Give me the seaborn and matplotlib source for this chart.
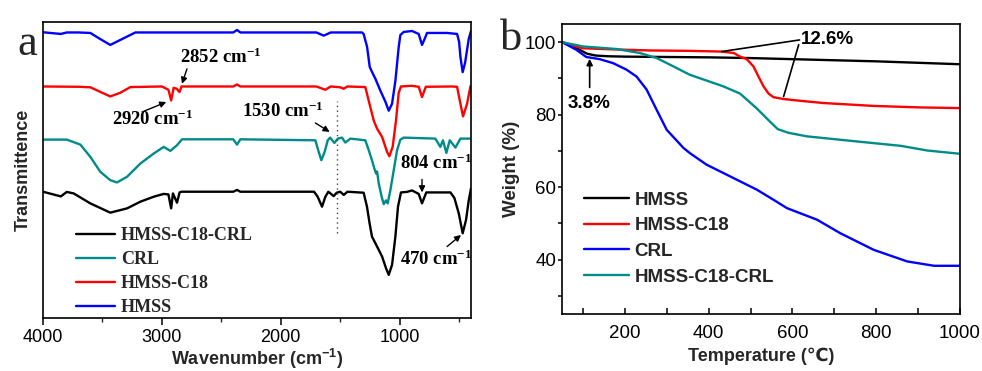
import numpy as np
import pandas as pd
import matplotlib
matplotlib.use('Agg')
import matplotlib.pyplot as plt
import seaborn as sns

# ---------------- FT-IR data (wavenumber cm-1, transmittance a.u.) ----------------
ir_hmss_wn = [4000, 3850, 3800, 3700, 3602, 3520, 3434, 3350, 3223, 2400, 2368, 2340,
              1700, 1639, 1580, 1317, 1303, 1274, 1252, 1233, 1204, 1162, 1120, 1092,
              1064, 1036, 1008, 994, 966, 896, 840, 812, 790, 770, 600, 517, 500, 489,
              470, 450, 419, 400]
ir_hmss_t = [286.7, 285, 286.5, 286.5, 286, 280, 274, 279, 286.5, 286.5, 289, 286.5,
             286.5, 283.3, 286.5, 286.5, 285, 272, 252, 247, 240, 228, 217, 208,
             215, 238, 272, 284, 287, 288, 285, 274, 280, 286, 286, 285, 277, 262,
             246.7, 256, 280, 288]

ir_c18_wn = [4000, 3700, 3602, 3520, 3434, 3350, 3265, 3000, 2945, 2922, 2901, 2875,
             2852, 2835, 2400, 2368, 2340, 1700, 1625, 1580, 1500, 1471, 1440, 1289,
             1247, 1218, 1190, 1148, 1106, 1087, 1059, 1031, 1008, 989, 900, 840,
             812, 780, 560, 517, 489, 467, 433, 405, 400]
ir_c18_t = [232.3, 232, 231.5, 227, 222.3, 226, 231.7, 232.3, 229, 218.3, 231, 230,
            226.7, 232.3, 232.3, 234.3, 232.3, 232.3, 229, 232.3, 231.5, 230, 232.3, 231.7,
            211.7, 198, 190, 181.7, 166.7, 162.3, 171.7, 198, 226, 232.3, 233, 232,
            221.7, 232, 232.3, 232, 215, 202.3, 215, 232.3, 233]

ir_crl_wn = [4000, 3800, 3686, 3602, 3518, 3434, 3378, 3293, 3181, 3069, 2985, 2929,
             2873, 2831, 2400, 2368, 2340, 1709, 1681, 1659, 1631, 1605, 1585, 1549,
             1520, 1485, 1457, 1415, 1289, 1260, 1233, 1213, 1199, 1190, 1176, 1148,
             1134, 1115, 1101, 1078, 1050, 1022, 994, 966, 700, 658, 636, 607, 579,
             531, 489, 400]
ir_crl_t = [179, 179, 174, 161.7, 146.7, 138.3, 136, 141.7, 155, 165, 171.7, 167.7,
            173.3, 179.3, 179.3, 174, 179.3, 178.3, 166.7, 158.3, 166.7, 178.3, 181, 175.7,
            180, 181, 176, 180, 178.3, 168.3, 158.3, 150, 145, 147, 135, 120,
            114.3, 118, 115, 128.3, 148.3, 168.3, 179, 181, 180, 171.7, 178.3, 165.7, 178.3,
            171, 180, 180]

ir_mix_wn = [4000, 3850, 3800, 3742, 3602, 3434, 3293, 3181, 3069, 2985, 2945, 2922,
             2907, 2873, 2851, 2835, 2400, 2368, 2340, 1720, 1690, 1653, 1625, 1600,
             1555, 1530, 1500, 1470, 1440, 1303, 1275, 1253, 1233, 1190, 1148, 1115,
             1092, 1064, 1036, 1014, 989, 940, 896, 840, 812, 776, 573, 540, 503,
             470, 442, 419, 400]
ir_mix_t = [126.7, 122, 126.5, 125, 115, 105.7, 110, 116.7, 121.7, 124.5, 124, 110,
            125, 115.7, 126, 126.7, 126.7, 128.5, 126.7, 126.7, 121.7, 111.7, 121.7, 126.7,
            122.3, 125.7, 126.7, 123.5, 126.7, 125.7, 111.7, 95, 81.7, 71.7, 61.7, 50,
            43.3, 53.3, 81.7, 111.7, 126, 126.5, 128, 124.5, 115, 126, 126, 120.5, 105,
            85, 98.3, 118, 130]

ir_labels = ['HMSS-C18-CRL', 'CRL', 'HMSS-C18', 'HMSS']

# ---------------- TGA data (temperature C, weight %) ----------------
tga_hmss_temp = [50, 70, 90, 110, 130, 160, 200, 300, 400, 500, 600, 700, 800, 900, 1000]
tga_hmss_w = [100, 99.2, 98.0, 96.8, 96.3, 96.1, 96.0, 95.9, 95.8, 95.6, 95.3, 95.0, 94.7, 94.3, 93.9]

tga_c18_temp = [50, 80, 100, 148, 200, 260, 350, 430, 460, 475, 491, 507, 519, 531, 543,
                555, 579, 620, 674, 794, 900, 1000]
tga_c18_w = [100, 98.9, 98.3, 98.1, 97.9, 97.7, 97.6, 97.4, 97.0, 96.0, 95.3, 93.3, 90.5, 87.8, 85.8,
             84.8, 84.3, 83.8, 83.2, 82.4, 82.0, 81.8]

tga_crl_temp = [50, 84, 108, 140, 172, 204, 228, 252, 276, 300, 340, 355, 395, 435, 475,
                515, 555, 587, 659, 714, 794, 874, 938, 1000]
tga_crl_w = [100, 97.9, 95.9, 95.3, 94.2, 92.4, 90.5, 86.9, 81.3, 75.8, 70.8, 69.4, 66.2, 63.9, 61.6,
             59.3, 56.5, 54.2, 51.0, 47.3, 42.7, 39.5, 38.3, 38.3]

tga_mix_temp = [50, 100, 180, 236, 276, 316, 355, 395, 435, 475, 515, 547, 565, 590, 635,
                754, 858, 922, 1000]
tga_mix_w = [100, 98.8, 98.1, 97.0, 95.6, 93.3, 91.0, 89.4, 87.8, 85.8, 81.7, 78.0, 76.0, 75.0, 74.0,
             72.6, 71.4, 70.1, 69.2]

tga_labels = ['HMSS', 'HMSS-C18', 'CRL', 'HMSS-C18-CRL']

colors = {'HMSS': '#0000FF', 'HMSS-C18': '#FF0000', 'CRL': '#008B8B', 'HMSS-C18-CRL': '#000000'}
tga_colors = {'HMSS': '#000000', 'HMSS-C18': '#FF0000', 'CRL': '#0000FF', 'HMSS-C18-CRL': '#008B8B'}

# ---------------- build tables ----------------
ir_df = pd.concat([
    pd.DataFrame({'wn': ir_mix_wn, 'T': ir_mix_t, 'sample': 'HMSS-C18-CRL'}),
    pd.DataFrame({'wn': ir_crl_wn, 'T': ir_crl_t, 'sample': 'CRL'}),
    pd.DataFrame({'wn': ir_c18_wn, 'T': ir_c18_t, 'sample': 'HMSS-C18'}),
    pd.DataFrame({'wn': ir_hmss_wn, 'T': ir_hmss_t, 'sample': 'HMSS'}),
], ignore_index=True)

tga_df = pd.concat([
    pd.DataFrame({'temp': tga_hmss_temp, 'w': tga_hmss_w, 'sample': 'HMSS'}),
    pd.DataFrame({'temp': tga_c18_temp, 'w': tga_c18_w, 'sample': 'HMSS-C18'}),
    pd.DataFrame({'temp': tga_crl_temp, 'w': tga_crl_w, 'sample': 'CRL'}),
    pd.DataFrame({'temp': tga_mix_temp, 'w': tga_mix_w, 'sample': 'HMSS-C18-CRL'}),
], ignore_index=True)

sns.set_theme(style='ticks')
plt.rcParams['font.family'] = ['Liberation Sans', 'DejaVu Sans']
plt.rcParams['mathtext.default'] = 'regular'
plt.rcParams['axes.linewidth'] = 1.2
plt.rcParams['axes.edgecolor'] = 'black'

fig = plt.figure(figsize=(9.82, 3.71), dpi=100)
ax1 = fig.add_axes([43 / 982, 53 / 371, 428 / 982, 296 / 371])
ax2 = fig.add_axes([562 / 982, 57 / 371, 398 / 982, 290 / 371])

# ---------------- panel a: FT-IR ----------------
sns.lineplot(data=ir_df, x='wn', y='T', hue='sample', hue_order=ir_labels,
             palette=colors, sort=False, estimator=None, lw=1.7, ax=ax1, legend=False)
ax1.set_xlim(4000, 400)
ax1.set_ylim(0, 297)
ax1.set_yticks([])
ax1.set_xticks([4000, 3000, 2000, 1000])
ax1.set_xticks([3500, 2500, 1500, 500], minor=True)
ax1.tick_params(axis='x', which='major', direction='out', length=5, width=1.1, pad=3,
                labelsize=13, colors='black')
ax1.tick_params(axis='x', which='minor', direction='out', length=3, width=1.0)
ax1.set_xlabel('Wavenumber (cm$^{-1}$)', fontsize=13, fontweight='bold')
ax1.xaxis.label.set_va('baseline')
ax1.xaxis.set_label_coords(0.5, -0.16)
ax1.set_ylabel('Transmittence', fontsize=13, fontweight='bold', labelpad=8)

ax1.plot([1530, 1530], [85, 218], ls=(0, (1, 2.5)), color='#444444', lw=1.0)

serif = dict(fontfamily='Liberation Serif', fontweight='bold', fontsize=13.5, color='black')
arrow = dict(arrowstyle='-|>', color='black', lw=1.0, mutation_scale=9, shrinkA=0, shrinkB=0)
ax1.text(2845, 262, '2852 cm$^{-1}$', ha='left', va='center', **serif)
ax1.annotate('', xy=(2831, 235), xytext=(2789, 250), arrowprops=arrow)
ax1.text(3420, 199, '2920 cm$^{-1}$', ha='left', va='center', **serif)
ax1.annotate('', xy=(2963, 216.7), xytext=(3167, 206.7), arrowprops=arrow)
ax1.text(2326, 207, '1530 cm$^{-1}$', ha='left', va='center', **serif)
ax1.annotate('', xy=(1589, 186.7), xytext=(1709, 195.7), arrowprops=arrow)
ax1.text(994, 155, '804 cm$^{-1}$', ha='left', va='center', **serif)
ax1.annotate('', xy=(812, 126), xytext=(812, 139), arrowprops=arrow)
ax1.text(994, 59, '470 cm$^{-1}$', ha='left', va='center', **serif)
ax1.annotate('', xy=(484, 83.3), xytext=(601, 71.7), arrowprops=arrow)

lines1 = ax1.get_lines()[:4]
ax1.legend(lines1, ir_labels, loc='lower left', bbox_to_anchor=(0.068, -0.005),
           frameon=False, prop=dict(family='Liberation Serif', weight='bold', size=13),
           handlelength=2.2, handletextpad=0.3, labelspacing=0.38, borderpad=0.2,
           borderaxespad=0)

# ---------------- panel b: TGA ----------------
sns.lineplot(data=tga_df, x='temp', y='w', hue='sample', hue_order=tga_labels,
             palette=tga_colors, sort=False, estimator=None, lw=1.7, ax=ax2, legend=False)
ax2.set_xlim(50, 1000)
ax2.set_ylim(25, 105)
ax2.set_xticks([200, 400, 600, 800, 1000])
ax2.set_xticks([100, 300, 500, 700, 900], minor=True)
ax2.set_yticks([40, 60, 80, 100])
ax2.set_yticks([30, 50, 70, 90], minor=True)
ax2.tick_params(axis='x', which='both', direction='in', length=4, width=1.1, pad=8,
                labelsize=13.5, colors='black')
ax2.tick_params(axis='y', which='both', direction='out', length=3, width=1.1, pad=1,
                labelsize=13.5, colors='black')
ax2.set_xlabel('Temperature (\u2103)', fontsize=13, fontweight='bold', labelpad=4)
ax2.set_ylabel('Weight (%)', fontsize=13.5, fontweight='bold', labelpad=4)

sans = dict(fontfamily=['Liberation Sans', 'DejaVu Sans'], fontweight='bold', fontsize=13.5, color='black')
ax2.text(115, 83.2, '3.8%', ha='center', va='center', **sans)
ax2.annotate('', xy=(116, 95.4), xytext=(116, 87.5),
             arrowprops=dict(arrowstyle='-|>', color='black', lw=1.2, mutation_scale=9,
                             shrinkA=0, shrinkB=0))
ax2.text(620, 100.8, '12.6%', ha='left', va='center', **sans)
ax2.annotate('', xy=(431, 97.4), xytext=(617, 100.6),
             arrowprops=dict(arrowstyle='-', color='black', lw=1.2, shrinkA=0, shrinkB=0))
ax2.annotate('', xy=(579, 85.0), xytext=(615, 99.3),
             arrowprops=dict(arrowstyle='-', color='black', lw=1.2, shrinkA=0, shrinkB=0))

lines2 = ax2.get_lines()[:4]
ax2.legend(lines2, tga_labels, loc='lower left', bbox_to_anchor=(0.045, 0.085),
           frameon=False, prop=dict(family='Liberation Sans', weight='bold', size=13.5),
           handlelength=2.4, handletextpad=0.3, labelspacing=0.45, borderpad=0.2,
           borderaxespad=0)

# panel letters
fig.text(17 / 982, 1 - 55 / 371, 'a', fontfamily='Liberation Serif', fontsize=32,
         va='baseline', ha='left')
fig.text(500 / 982, 1 - 50 / 371, 'b', fontfamily='Liberation Serif', fontsize=32,
         va='baseline', ha='left')

fig.savefig('out.png', dpi=100, facecolor='white')
